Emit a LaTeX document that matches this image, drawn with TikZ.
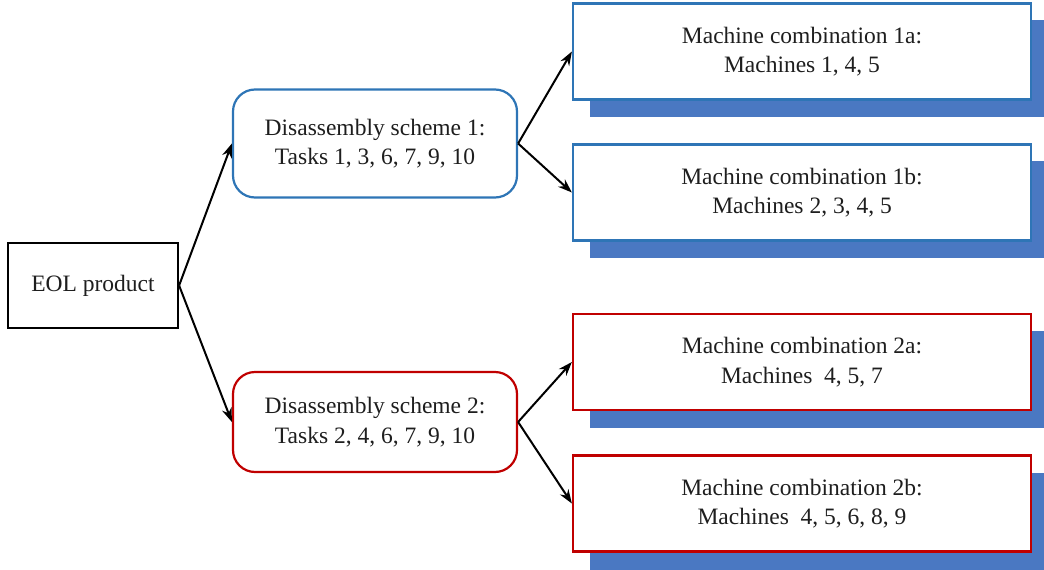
\documentclass[tikz,border=0pt]{standalone}
\usepackage{fontspec}
\setmainfont{Liberation Serif}
\usetikzlibrary{arrows.meta}
\definecolor{bblue}{HTML}{2E75B6}
\definecolor{rred}{HTML}{C00000}
\definecolor{shblue}{HTML}{4A78C2}
\definecolor{txt}{HTML}{1E1E1E}
\tikzset{
  base/.style={line width=2.2pt, fill=white, text=txt, align=center, inner sep=0pt,
    font=\fontsize{23.5}{29.5}\selectfont},
  eol/.style={base, draw=black, minimum width=170pt, minimum height=85pt},
  scheme/.style={base, rounded corners=22pt, minimum width=284pt, minimum height=108pt},
  combo/.style={base, minimum width=458pt, minimum height=96pt},
  conn/.style={line width=2pt, -{Stealth[length=14pt,width=10pt]}},
}
\begin{document}
\begin{tikzpicture}[x=1pt,y=-1pt]
\useasboundingbox (0,0) rectangle (1044,570);
\clip (0,0) rectangle (1044,570);
% shadows
\fill[shblue] (590,20) rectangle (1050,117);
\fill[shblue] (590,161) rectangle (1050,258);
\fill[shblue] (590,331) rectangle (1050,428);
\fill[shblue] (590,473) rectangle (1050,570);
% nodes
\node[eol] (eol) at (93,285.5) {EOL product};
\node[scheme, draw=bblue] (s1) at (375,143.5) {Disassembly scheme 1:\\Tasks 1, 3, 6, 7, 9, 10};
\node[scheme, draw=rred, minimum height=100pt] (s2) at (375,422) {Disassembly scheme 2:\\Tasks 2, 4, 6, 7, 9, 10};
\node[combo, draw=bblue] (c1a) at (802,51.5) {Machine combination 1a:\\Machines 1, 4, 5};
\node[combo, draw=bblue] (c1b) at (802,192.5) {Machine combination 1b:\\Machines 2, 3, 4, 5};
\node[combo, draw=rred] (c2a) at (802,362) {Machine combination 2a:\\Machines~ 4, 5, 7};
\node[combo, draw=rred] (c2b) at (802,503.5) {Machine combination 2b:\\Machines~ 4, 5, 6, 8, 9};
% connectors
\draw[conn] (eol.east) -- (s1.west);
\draw[conn] (eol.east) -- (s2.west);
\draw[conn] (s1.east) -- (c1a.west);
\draw[conn] (s1.east) -- (c1b.west);
\draw[conn] (s2.east) -- (c2a.west);
\draw[conn] (s2.east) -- (c2b.west);
\end{tikzpicture}
\end{document}
